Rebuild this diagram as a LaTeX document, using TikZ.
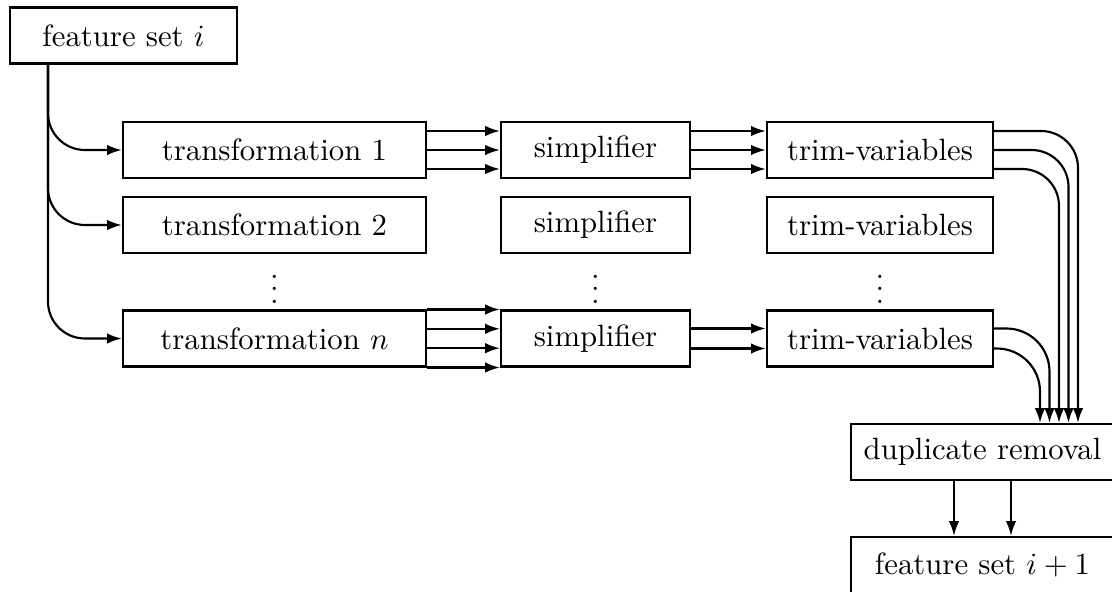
\documentclass[tikz,border=0pt]{standalone}
\usetikzlibrary{arrows.meta,calc}
\begin{document}
\begin{tikzpicture}[x=0.325pt,y=-0.325pt,line width=0.7pt,
  box/.style={draw,line width=0.7pt,minimum height=18.2pt,inner sep=0pt},
  arr/.style={line width=0.7pt,-{Latex[length=4.8pt,width=3.4pt]}}]
\useasboundingbox (0,0) rectangle (1112,592);

% input feature set
\node[box,minimum width=73.8pt] (fs) at (123.5,35.5) {feature set $i$};

% transformation column
\node[box,minimum width=98.5pt] (t1) at (274.5,150) {transformation 1};
\node[box,minimum width=98.5pt] (t2) at (274.5,225) {transformation 2};
\node[box,minimum width=98.5pt] (tn) at (274.5,338.5) {transformation $n$};
\node (dt) at (274.5,280) {$\vdots$};

% simplifier column
\node[box,minimum width=61.4pt] (s1) at (595.5,150) {simplifier};
\node[box,minimum width=61.4pt] (s2) at (595.5,225) {simplifier};
\node[box,minimum width=61.4pt] (sn) at (595.5,338.5) {simplifier};
\node (ds) at (595.5,280) {$\vdots$};

% trim-variables column
\node[box,minimum width=73.5pt] (v1) at (880,150) {trim-variables};
\node[box,minimum width=73.5pt] (v2) at (880,225) {trim-variables};
\node[box,minimum width=73.5pt] (vn) at (880,338.5) {trim-variables};
\node (dv) at (880,280) {$\vdots$};

% merging and output
\node[box,minimum width=85.5pt] (dr) at (982.5,452) {duplicate removal};
\node[box,minimum width=85.5pt] (fs2) at (982.5,565) {feature set $i+1$};

% fork from the input set to every transformation
\coordinate (fork) at (48,64);
\foreach \t in {t1,t2,tn}
  \draw[arr,rounded corners=12pt] (fork) |- (\t.west);

% transformation 1 -> simplifier -> trim-variables
\foreach \d in {-19,0,19}{
  \draw[arr] ($(t1.east)+(0,\d)$) -- ($(s1.west)+(0,\d)$);
  \draw[arr] ($(s1.east)+(0,\d)$) -- ($(v1.west)+(0,\d)$);
}

% transformation n -> simplifier -> trim-variables
\foreach \d in {-29,-9.7,9.7,29}
  \draw[arr] ($(tn.east)+(0,\d)$) -- ($(sn.west)+(0,\d)$);
\foreach \d in {-10,10}
  \draw[arr] ($(sn.east)+(0,\d)$) -- ($(vn.west)+(0,\d)$);

% trim-variables outputs into duplicate removal
\draw[arr,rounded corners=12pt] ($(v1.east)+(0,-19)$) -| ($(dr.north)+(95.5,0)$);
\draw[arr,rounded corners=12pt] ($(v1.east)+(0,0)$) -| ($(dr.north)+(86,0)$);
\draw[arr,rounded corners=12pt] ($(v1.east)+(0,19)$) -| ($(dr.north)+(76.5,0)$);
\draw[arr,rounded corners=14pt] ($(vn.east)+(0,-10)$) -| ($(dr.north)+(67,0)$);
\draw[arr,rounded corners=14pt] ($(vn.east)+(0,10)$) -| ($(dr.north)+(57.5,0)$);

% duplicate removal -> next feature set
\foreach \d in {-28.5,28.5}
  \draw[arr] ($(dr.south)+(\d,0)$) -- ($(fs2.north)+(\d,0)$);
\end{tikzpicture}
\end{document}
